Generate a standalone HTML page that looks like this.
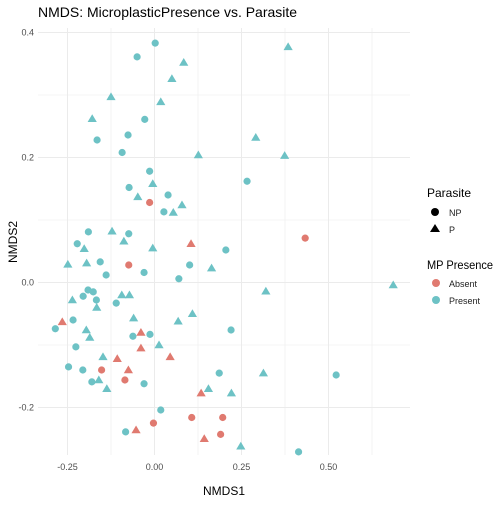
<!DOCTYPE html>
<html><head><meta charset="utf-8"><style>
body{margin:0;background:#fff;font-family:"Liberation Sans",Arial,sans-serif}
svg text{font-family:"Liberation Sans",Arial,sans-serif}
</style></head><body>
<svg id="chart" width="504" height="504" viewBox="0 0 504 504">
<rect width="504" height="504" fill="#fff"/>
<g id="grid"></g>
<g id="points"></g>
<g id="axes"></g>
<text x="38" y="17" font-size="14" fill="#000">NMDS: MicroplasticPresence vs. Parasite</text>
<text x="224" y="495" font-size="12" text-anchor="middle" fill="#000">NMDS1</text>
<text transform="translate(17,242) rotate(-90)" font-size="12" text-anchor="middle" fill="#000">NMDS2</text>
<g>
<text x="427" y="197" font-size="12">Parasite</text>
<circle cx="435" cy="212" r="4" fill="#000"/>
<text x="449" y="216" font-size="9" fill="#222">NP</text>
<polygon points="435,224 440,232 430,232" fill="#000"/>
<text x="449" y="233" font-size="9" fill="#222">P</text>
</g>
<g>
<text x="427" y="269" font-size="12" textLength="66" lengthAdjust="spacingAndGlyphs">MP Presence</text>
<circle cx="436" cy="283" r="4" fill="#E07A70"/>
<text x="449" y="287" font-size="9" fill="#222">Absent</text>
<circle cx="436" cy="300" r="4" fill="#6DC2C5"/>
<text x="449" y="304" font-size="9" fill="#222">Present</text>
</g>
</svg>
<script>
const nmds1=[0.002,-0.050,0.084,0.050,-0.125,0.018,-0.179,-0.028,-0.165,-0.076,-0.093,0.126,-0.014,-0.005,-0.073,-0.048,-0.014,0.039,0.027,0.054,0.079,-0.190,-0.122,-0.074,-0.222,-0.202,-0.088,-0.005,0.105,0.205,-0.249,-0.195,-0.156,-0.074,-0.139,-0.030,0.101,0.164,0.070,-0.191,-0.176,-0.205,-0.236,-0.167,-0.166,-0.094,-0.072,-0.110,-0.060,0.068,0.109,-0.265,-0.234,-0.285,-0.196,-0.186,-0.062,-0.039,-0.013,-0.039,0.013,-0.226,-0.148,-0.107,0.045,-0.247,-0.206,-0.152,-0.075,-0.085,-0.180,-0.160,-0.137,-0.030,0.186,0.134,0.155,0.018,-0.003,-0.083,-0.053,0.107,0.196,0.190,0.143,0.384,0.291,0.374,0.266,0.433,0.320,0.686,0.220,0.313,0.522,0.221,0.248,0.414];
const nmds2=[0.383,0.361,0.352,0.326,0.297,0.289,0.262,0.261,0.228,0.236,0.208,0.204,0.178,0.158,0.152,0.137,0.128,0.140,0.113,0.112,0.124,0.081,0.082,0.078,0.062,0.054,0.066,0.055,0.062,0.052,0.029,0.031,0.033,0.028,0.012,0.016,0.028,0.023,0.006,-0.012,-0.015,-0.022,-0.028,-0.028,-0.040,-0.020,-0.020,-0.033,-0.057,-0.062,-0.050,-0.063,-0.060,-0.074,-0.076,-0.088,-0.086,-0.080,-0.083,-0.105,-0.100,-0.103,-0.119,-0.122,-0.119,-0.135,-0.140,-0.140,-0.140,-0.156,-0.159,-0.156,-0.170,-0.162,-0.145,-0.177,-0.170,-0.204,-0.225,-0.239,-0.236,-0.216,-0.216,-0.243,-0.250,0.377,0.232,0.203,0.162,0.071,-0.014,-0.004,-0.076,-0.145,-0.148,-0.177,-0.262,-0.271];
const parasite="NP,NP,P,P,P,P,P,NP,NP,NP,NP,P,NP,P,NP,P,NP,NP,NP,P,P,NP,P,NP,NP,P,P,P,P,NP,P,P,NP,NP,NP,NP,NP,P,NP,NP,NP,NP,P,NP,P,P,P,NP,P,P,P,P,NP,NP,P,P,NP,P,NP,P,P,NP,P,P,P,NP,NP,NP,P,NP,NP,P,P,NP,NP,P,P,NP,NP,NP,P,NP,NP,NP,P,P,P,P,NP,NP,P,P,NP,P,NP,P,P,NP".split(",");
const mpPresence="P,P,P,P,P,P,P,P,P,P,P,P,P,P,P,P,A,P,P,P,P,P,P,P,P,P,P,P,A,P,P,P,P,A,P,P,P,P,P,P,P,P,P,P,P,P,P,P,P,P,P,A,P,P,P,P,P,A,P,A,P,P,P,A,A,P,P,A,A,A,P,P,P,P,P,A,P,P,A,P,A,A,A,A,A,P,P,P,P,A,P,P,P,P,P,P,P,P".split(",");
const xTicks=[-0.25,0,0.25,0.5], xTickLabels=["-0.25","0.00","0.25","0.50"];
const yTicks=[-0.2,0,0.2,0.4], yTickLabels=["-0.2","0.0","0.2","0.4"];
const L=38,R=410,T=28,B=455;
const X=v=>154.5+v*348, Y=v=>282.5-v*625;
const NS="http://www.w3.org/2000/svg";
const grid=document.getElementById('grid'),axes=document.getElementById('axes'),pts=document.getElementById('points');
function mk(tag,attrs,parent){const e=document.createElementNS(NS,tag);for(const k in attrs)e.setAttribute(k,attrs[k]);parent.appendChild(e);return e;}
for(let v=-0.375;v<=0.75;v+=0.125){const x=X(v);if(x<L||x>R)continue;const major=Math.abs(v*4-Math.round(v*4))<1e-6;
 const l=mk('line',{x1:x,x2:x,y1:T,y2:B,stroke:'#ebebeb','stroke-width':major?1:0.6},grid);
 
 }
for(let v=-0.3;v<=0.45;v+=0.1){const y=Y(v);if(y<T||y>B)continue;const major=Math.abs(v*5-Math.round(v*5))<1e-6;
 const l=mk('line',{x1:L,x2:R,y1:y,y2:y,stroke:'#ebebeb','stroke-width':major?1:0.6},grid);
 
 }
xTicks.forEach((v,i)=>{const t=mk('text',{x:X(v),y:470,'font-size':9,fill:'#4d4d4d','text-anchor':'middle'},axes);t.textContent=xTickLabels[i];
 
 });
yTicks.forEach((v,i)=>{const t=mk('text',{x:34,y:Y(v)+3,'font-size':9,fill:'#4d4d4d','text-anchor':'end'},axes);t.textContent=yTickLabels[i];
 
 });
nmds1.forEach((v,i)=>{const x=X(v),y=Y(nmds2[i]);const abs=mpPresence[i]==='A';
 const fill=abs?'#E07A70':'#6DC2C5';let e;
 if(parasite[i]==='NP'){e=mk('circle',{cx:x,cy:y,r:3.6,fill:fill},pts);}
 else{e=mk('polygon',{points:`${x},${y-4.5} ${x+4.6},${y+3.3} ${x-4.6},${y+3.3}`,fill:fill},pts);}
 
 });
</script>
</body></html>
